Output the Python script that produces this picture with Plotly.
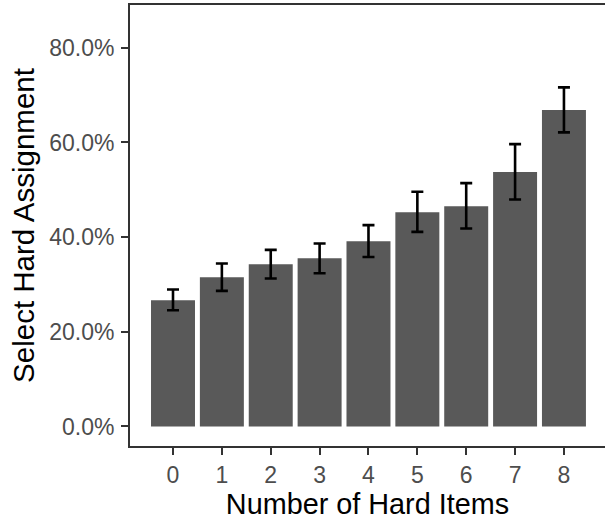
import plotly.graph_objects as go

categories = ["0", "1", "2", "3", "4", "5", "6", "7", "8"]
x_pos = [0, 1, 2, 3, 4, 5, 6, 7, 8]
values = [0.2668, 0.3154, 0.3429, 0.3555, 0.3914, 0.4527, 0.4654, 0.5373, 0.6684]
err_upper = [0.2894, 0.3443, 0.3731, 0.3866, 0.4253, 0.4957, 0.5141, 0.5965, 0.7163]
err_lower = [0.2456, 0.2864, 0.3126, 0.3238, 0.3581, 0.4111, 0.4183, 0.4796, 0.6212]
y_ticks = [0.0, 0.2, 0.4, 0.6, 0.8]

plus = [u - v for u, v in zip(err_upper, values)]
minus = [v - l for v, l in zip(values, err_lower)]

fig = go.Figure()
fig.add_trace(go.Bar(
    x=x_pos, y=values, width=0.9,
    marker=dict(color="#595959", line=dict(width=0)),
    error_y=dict(type="data", symmetric=False, array=plus, arrayminus=minus,
                 color="black", thickness=2.6, width=6),
))

font_family = "Liberation Sans, Arial, Helvetica, sans-serif"
fig.update_layout(
    width=605, height=522,
    margin=dict(l=130, r=0, t=5, b=76),
    plot_bgcolor="white", paper_bgcolor="white",
    showlegend=False,
    font=dict(family=font_family),
    xaxis=dict(
        range=[-0.88, 8.84],
        tickmode="array", tickvals=x_pos, ticktext=categories,
        showline=True, linecolor="#333333", linewidth=1.9, mirror=True,
        ticks="outside", ticklen=7, tickwidth=2, tickcolor="#333333",
        tickfont=dict(size=23, color="#4D4D4D"),
        showgrid=False, zeroline=False,
        title=dict(text="Number of Hard Items", font=dict(size=28.8, color="black"), standoff=3),
    ),
    yaxis=dict(
        range=[-0.0412, 0.8903],
        tickmode="array", tickvals=y_ticks, tickformat=".1%",
        showline=True, linecolor="#333333", linewidth=1.9,
        ticks="outside", ticklen=7, tickwidth=2, tickcolor="#333333",
        tickfont=dict(size=23, color="#4D4D4D"), ticklabelstandoff=2,
        showgrid=False, zeroline=False,
        title=dict(text="Select Hard Assignment", font=dict(size=29.5, color="black"), standoff=6),
    ),
)

fig.write_html("out.html")
